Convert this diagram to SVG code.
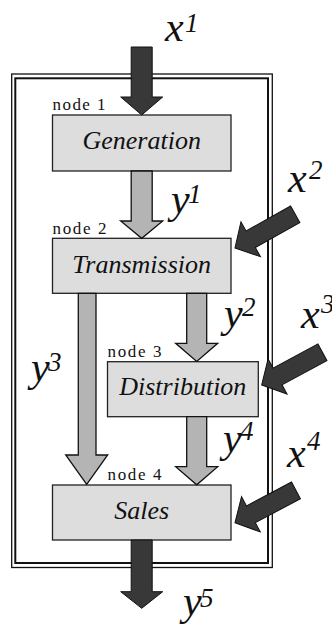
<svg xmlns="http://www.w3.org/2000/svg" width="332" height="626" viewBox="0 0 332 626">
  <rect width="332" height="626" fill="#fff"/>

  <!-- system boundary: double frame -->
  <g id="boundary" fill="none" stroke="#111">
    <rect x="11.7" y="74" width="260.6" height="493.5" stroke-width="1.3"/>
    <rect x="15.3" y="78.3" width="252.7" height="484.7" stroke-width="2"/>
  </g>

  <!-- nodes -->
  <g id="node1">
    <text font-family="Liberation Serif" font-size="17" fill="#111" x="52.5" y="110" textLength="53" lengthAdjust="spacing">node 1</text>
    <rect fill="#dddddd" stroke="#222" stroke-width="1.3" x="52.5" y="115" width="178.5" height="56"/>
    <text font-family="Liberation Serif" font-style="italic" font-size="26" text-anchor="middle" fill="#111" x="141.7" y="148.5">Generation</text>
  </g>
  <g id="node2">
    <text font-family="Liberation Serif" font-size="17" fill="#111" x="52.5" y="234.3" textLength="54" lengthAdjust="spacing">node 2</text>
    <rect fill="#dddddd" stroke="#222" stroke-width="1.3" x="52.5" y="238.3" width="178.5" height="55"/>
    <text font-family="Liberation Serif" font-style="italic" font-size="26" text-anchor="middle" fill="#111" x="141.7" y="272.5">Transmission</text>
  </g>
  <g id="node3">
    <text font-family="Liberation Serif" font-size="17" fill="#111" x="107.5" y="356.7" textLength="54" lengthAdjust="spacing">node 3</text>
    <rect fill="#dddddd" stroke="#222" stroke-width="1.3" x="107.5" y="361.7" width="150.8" height="55"/>
    <text font-family="Liberation Serif" font-style="italic" font-size="26" text-anchor="middle" fill="#111" x="182.8" y="395">Distribution</text>
  </g>
  <g id="node4">
    <text font-family="Liberation Serif" font-size="17" fill="#111" x="107.5" y="480" textLength="54" lengthAdjust="spacing">node 4</text>
    <rect fill="#dddddd" stroke="#222" stroke-width="1.3" x="52.5" y="485" width="178.5" height="55"/>
    <text font-family="Liberation Serif" font-style="italic" font-size="26" text-anchor="middle" fill="#111" x="141.7" y="519">Sales</text>
  </g>

  <!-- connectors -->
  <g id="connectors" stroke="#111">
    <!-- internal flows y1..y4: light grey block arrows -->
    <g fill="#b4b4b4" stroke-width="1.3">
      <path d="M131.2,171 L152.2,171 L152.2,221 L162.7,221 L141.7,238.3 L120.7,221 L131.2,221 Z"/>
      <path d="M186.7,293.3 L206.7,293.3 L206.7,343.3 L217.7,343.3 L196.7,361.5 L175.7,343.3 L186.7,343.3 Z"/>
      <path d="M78.3,293.3 L96,293.3 L96,455 L107.7,455 L86.7,484.5 L65.7,455 L78.3,455 Z"/>
      <path d="M186.7,416.7 L206.7,416.7 L206.7,466.7 L217.7,466.7 L196.7,484.8 L175.7,466.7 L186.7,466.7 Z"/>
    </g>
    <!-- external inputs x1..x4 and output y5: dark block arrows -->
    <g fill="#383838" stroke-width="1">
      <path d="M131.2,47 L152.2,47 L152.2,97 L162.7,97 L141.7,115 L120.7,97 L131.2,97 Z"/>
      <path d="M131.2,540 L152.2,540 L152.2,591.7 L162.7,591.7 L141.7,608.3 L120.7,591.7 L131.2,591.7 Z"/>
      <path transform="translate(235,248) rotate(150.8)" d="M0,0 L-18,-20 L-18,-9.5 L-69,-9.5 L-69,9.5 L-18,9.5 L-18,20 Z"/>
      <path transform="translate(261.7,385) rotate(151.7)" d="M0,0 L-18,-20 L-18,-9.5 L-69,-9.5 L-69,9.5 L-18,9.5 L-18,20 Z"/>
      <path transform="translate(235,522.7) rotate(152.1)" d="M0,0 L-18,-20 L-18,-9.5 L-69,-9.5 L-69,9.5 L-18,9.5 L-18,20 Z"/>
    </g>
  </g>

  <!-- flow labels: variable letter plus raised index -->
  <g id="labels">
    <text font-family="Liberation Serif" font-style="italic" font-size="42" fill="#111" x="165" y="41">x</text>
    <text font-family="Liberation Serif" font-style="italic" font-size="27" fill="#111" x="185" y="32">1</text>
    <text font-family="Liberation Serif" font-style="italic" font-size="42" fill="#111" x="171" y="212.5">y</text>
    <text font-family="Liberation Serif" font-style="italic" font-size="27" fill="#111" x="188" y="203">1</text>
    <text font-family="Liberation Serif" font-style="italic" font-size="42" fill="#111" x="288" y="192">x</text>
    <text font-family="Liberation Serif" font-style="italic" font-size="27" fill="#111" x="309" y="179">2</text>
    <text font-family="Liberation Serif" font-style="italic" font-size="42" fill="#111" x="224" y="327">y</text>
    <text font-family="Liberation Serif" font-style="italic" font-size="27" fill="#111" x="242" y="316">2</text>
    <text font-family="Liberation Serif" font-style="italic" font-size="42" fill="#111" x="31" y="381">y</text>
    <text font-family="Liberation Serif" font-style="italic" font-size="27" fill="#111" x="48" y="371">3</text>
    <text font-family="Liberation Serif" font-style="italic" font-size="42" fill="#111" x="301" y="328">x</text>
    <text font-family="Liberation Serif" font-style="italic" font-size="27" fill="#111" x="321" y="313">3</text>
    <text font-family="Liberation Serif" font-style="italic" font-size="42" fill="#111" x="223" y="452">y</text>
    <text font-family="Liberation Serif" font-style="italic" font-size="27" fill="#111" x="240" y="440">4</text>
    <text font-family="Liberation Serif" font-style="italic" font-size="42" fill="#111" x="287" y="466.5">x</text>
    <text font-family="Liberation Serif" font-style="italic" font-size="27" fill="#111" x="307" y="450">4</text>
    <text font-family="Liberation Serif" font-style="italic" font-size="42" fill="#111" x="183" y="615">y</text>
    <text font-family="Liberation Serif" font-style="italic" font-size="27" fill="#111" x="200" y="607">5</text>
  </g>
</svg>
